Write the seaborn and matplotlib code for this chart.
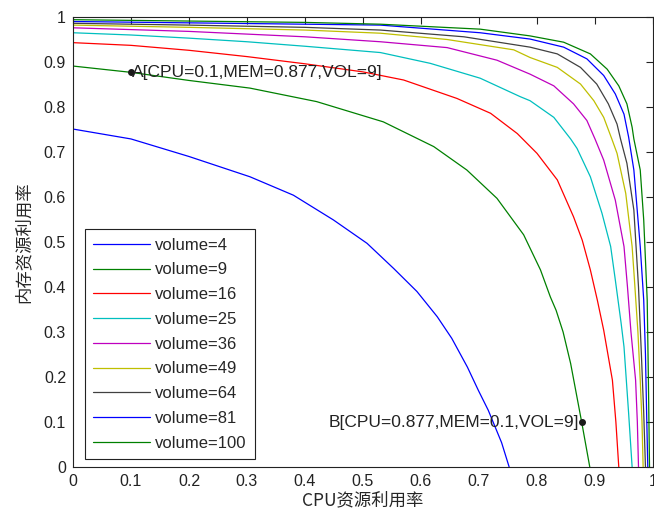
import matplotlib
matplotlib.use("Agg")
import matplotlib.pyplot as plt
import numpy as np
import pandas as pd
import seaborn as sns

# 读图得到的曲线 (CPU, MEM)，每个 volume 一条
volumes = [4, 9, 16, 25, 36, 49, 64, 81, 100]

cpu_v4 = [0, 0.1, 0.2, 0.305, 0.38, 0.449, 0.507, 0.553, 0.593, 0.628, 0.653, 0.68, 0.699, 0.716, 0.739, 0.752]
mem_v4 = [0.751, 0.729, 0.69, 0.645, 0.604, 0.549, 0.497, 0.441, 0.390, 0.334, 0.286, 0.222, 0.170, 0.126, 0.054, 0]

cpu_v9 = [0, 0.1, 0.2, 0.305, 0.42, 0.535, 0.622, 0.679, 0.731, 0.777, 0.806, 0.823, 0.833, 0.845, 0.858, 0.877, 0.884, 0.891]
mem_v9 = [0.891, 0.877, 0.859, 0.842, 0.812, 0.767, 0.712, 0.660, 0.597, 0.516, 0.438, 0.378, 0.348, 0.30, 0.23, 0.10, 0.05, 0]

cpu_v16 = [0, 0.1, 0.2, 0.3, 0.4, 0.5, 0.57, 0.662, 0.72, 0.766, 0.80, 0.835, 0.863, 0.878, 0.892, 0.904, 0.915, 0.93, 0.936, 0.941]
mem_v16 = [0.943, 0.937, 0.926, 0.912, 0.896, 0.878, 0.860, 0.819, 0.786, 0.741, 0.697, 0.638, 0.556, 0.504, 0.438, 0.371, 0.304, 0.193, 0.10, 0]

cpu_v25 = [0, 0.1, 0.2, 0.3, 0.4, 0.53, 0.616, 0.702, 0.771, 0.788, 0.829, 0.858, 0.869, 0.892, 0.912, 0.927, 0.935, 0.945, 0.95, 0.958, 0.964]
mem_v25 = [0.965, 0.960, 0.953, 0.945, 0.935, 0.921, 0.897, 0.864, 0.823, 0.814, 0.777, 0.729, 0.708, 0.645, 0.564, 0.490, 0.416, 0.32, 0.267, 0.119, 0]

cpu_v36 = [0, 0.2, 0.4, 0.53, 0.645, 0.731, 0.788, 0.829, 0.863, 0.886, 0.9, 0.915, 0.935, 0.95, 0.956, 0.962, 0.97, 0.973, 0.975]
mem_v36 = [0.976, 0.968, 0.956, 0.945, 0.932, 0.904, 0.873, 0.847, 0.807, 0.770, 0.729, 0.682, 0.593, 0.490, 0.40, 0.30, 0.193, 0.10, 0]

cpu_v49 = [0, 0.2, 0.4, 0.53, 0.645, 0.76, 0.788, 0.835, 0.875, 0.898, 0.915, 0.929, 0.938, 0.953, 0.964, 0.968, 0.974, 0.978, 0.981, 0.983]
mem_v49 = [0.982, 0.977, 0.971, 0.964, 0.950, 0.927, 0.910, 0.888, 0.851, 0.814, 0.777, 0.729, 0.697, 0.608, 0.490, 0.416, 0.30, 0.193, 0.10, 0]

cpu_v64 = [0, 0.2, 0.4, 0.53, 0.674, 0.788, 0.835, 0.875, 0.903, 0.923, 0.938, 0.944, 0.955, 0.967, 0.975, 0.98, 0.984, 0.987]
mem_v64 = [0.986, 0.982, 0.977, 0.971, 0.956, 0.933, 0.918, 0.888, 0.851, 0.807, 0.762, 0.729, 0.675, 0.571, 0.40, 0.25, 0.12, 0]

cpu_v81 = [0, 0.2, 0.4, 0.53, 0.702, 0.788, 0.846, 0.886, 0.915, 0.935, 0.950, 0.958, 0.967, 0.978, 0.984, 0.987, 0.989, 0.991]
mem_v81 = [0.990, 0.987, 0.984, 0.982, 0.965, 0.951, 0.933, 0.907, 0.870, 0.829, 0.784, 0.733, 0.66, 0.49, 0.371, 0.25, 0.12, 0]

cpu_v100 = [0, 0.2, 0.4, 0.53, 0.702, 0.788, 0.846, 0.892, 0.921, 0.941, 0.955, 0.964, 0.967, 0.978, 0.984, 0.99, 0.992, 0.994]
mem_v100 = [0.994, 0.991, 0.988, 0.984, 0.973, 0.958, 0.944, 0.918, 0.884, 0.847, 0.807, 0.755, 0.729, 0.66, 0.549, 0.371, 0.2, 0]

# 标注点
point_a = (0.1, 0.877)
point_b = (0.877, 0.1)
label_a = "A[CPU=0.1,MEM=0.877,VOL=9]"
label_b = "B[CPU=0.877,MEM=0.1,VOL=9]"

ticks = [0, 0.1, 0.2, 0.3, 0.4, 0.5, 0.6, 0.7, 0.8, 0.9, 1]

# MATLAB 默认颜色顺序
matlab_colors = [(0, 0, 1), (0, 0.5, 0), (1, 0, 0), (0, 0.75, 0.75),
                 (0.75, 0, 0.75), (0.75, 0.75, 0), (0.25, 0.25, 0.25),
                 (0, 0, 1), (0, 0.5, 0)]

curves = {
    4: (cpu_v4, mem_v4), 9: (cpu_v9, mem_v9), 16: (cpu_v16, mem_v16),
    25: (cpu_v25, mem_v25), 36: (cpu_v36, mem_v36), 49: (cpu_v49, mem_v49),
    64: (cpu_v64, mem_v64), 81: (cpu_v81, mem_v81), 100: (cpu_v100, mem_v100),
}

rows = []
for v in volumes:
    cpu, mem = curves[v]
    for c, m in zip(cpu, mem):
        rows.append({"cpu": c, "mem": m, "volume": f"volume={v}"})
df = pd.DataFrame(rows)
hue_order = [f"volume={v}" for v in volumes]

sns.set_theme(style="white")
plt.rcParams["font.family"] = ["Liberation Sans", "Noto Sans CJK SC", "DejaVu Sans"]
plt.rcParams["xtick.direction"] = "in"
plt.rcParams["ytick.direction"] = "in"

fig = plt.figure(figsize=(6.54, 5.15), dpi=100)
ax = fig.add_axes([73 / 654, 48 / 515, 580 / 654, 450 / 515])

sns.lineplot(data=df, x="cpu", y="mem", hue="volume", hue_order=hue_order,
             palette=matlab_colors, sort=False, estimator=None, units="volume",
             lw=0.9, ax=ax, legend=True)

# A / B 两个点
ax.plot(*point_a, "o", color="k", ms=4)
ax.plot(*point_b, "o", color="k", ms=4)
ax.annotate(label_a, xy=point_a, xytext=(1, 0), textcoords="offset points",
            ha="left", va="center", fontsize=12.5, color="#222222")
ax.annotate(label_b, xy=point_b, xytext=(-2, 0), textcoords="offset points",
            ha="right", va="center", fontsize=12.5, color="#222222")

ax.set_xlim(0, 1)
ax.set_ylim(0, 1)
ax.set_xticks(ticks)
ax.set_yticks(ticks)
ax.set_xticklabels([f"{t:g}" for t in ticks])
ax.set_yticklabels([f"{t:g}" for t in ticks])
ax.tick_params(axis="both", which="both", direction="in", length=5, width=0.8,
               top=True, right=True, labelsize=11.5, colors="#222222", pad=5)
for s in ax.spines.values():
    s.set_color("#222222")
    s.set_linewidth(0.8)

ax.set_xlabel("CPU资源利用率", fontsize=12.5, family=["Noto Sans CJK SC", "DejaVu Sans"], labelpad=2)
ax.set_ylabel("内存资源利用率", fontsize=12.5, family=["Noto Sans CJK SC", "DejaVu Sans"], labelpad=8)

handles, labels = ax.get_legend_handles_labels()
leg = ax.legend(handles, labels, loc="lower left", bbox_to_anchor=(0.0207, 0.0178),
                borderaxespad=0, fontsize=12, frameon=True, fancybox=False,
                edgecolor="#222222", framealpha=1, handlelength=3.4,
                handletextpad=0.3, labelspacing=0.585, borderpad=0.5)
leg.get_frame().set_linewidth(0.8)

fig.savefig("out.png", dpi=100)
